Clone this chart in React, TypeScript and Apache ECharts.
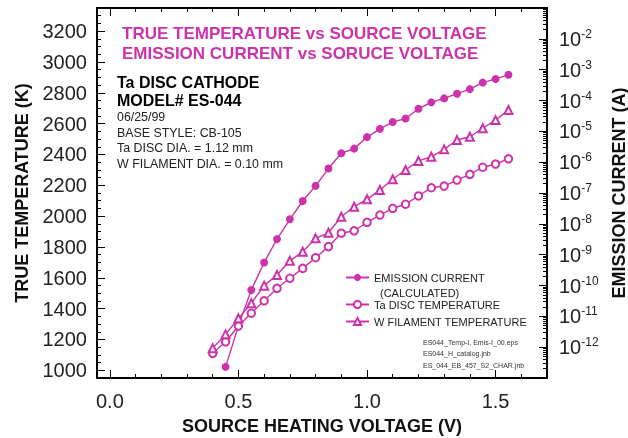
import React, { useEffect, useRef } from "react";
import * as echarts from "echarts";

// ---- data ----
const voltage = [0.40, 0.45, 0.50, 0.55, 0.60, 0.65, 0.70, 0.75, 0.80, 0.85, 0.90, 0.95, 1.00, 1.05, 1.10, 1.15, 1.20, 1.25, 1.30, 1.35, 1.40, 1.45, 1.50, 1.55];
const taDiscTemp = [1110, 1185, 1287, 1370, 1451, 1532, 1597, 1661, 1730, 1802, 1889, 1905, 1960, 2007, 2051, 2077, 2131, 2184, 2195, 2234, 2271, 2317, 2338, 2372];
const wFilamentTemp = [1143, 1233, 1337, 1435, 1549, 1618, 1710, 1769, 1856, 1892, 1996, 2061, 2109, 2169, 2239, 2299, 2358, 2385, 2433, 2494, 2515, 2570, 2623, 2688];
const emissionVoltage = [0.45, 0.50, 0.55, 0.60, 0.65, 0.70, 0.75, 0.80, 0.85, 0.90, 0.95, 1.00, 1.05, 1.10, 1.15, 1.20, 1.25, 1.30, 1.35, 1.40, 1.45, 1.50, 1.55];
const emissionCurrent = [2.3e-13, 4.9e-12, 7.1e-11, 5.6e-10, 3.2e-9, 1.4e-8, 5.5e-8, 1.7e-7, 6.2e-7, 1.95e-6, 2.75e-6, 6.5e-6, 1.2e-5, 2.0e-5, 2.6e-5, 5.4e-5, 8.7e-5, 1.17e-4, 1.66e-4, 2.34e-4, 3.8e-4, 5.0e-4, 6.8e-4];

const titleLines = ["TRUE TEMPERATURE vs SOURCE VOLTAGE", "EMISSION CURRENT vs SORUCE VOLTAGE"];
const infoBold = ["Ta DISC CATHODE", "MODEL# ES-044"];
const infoLines = ["06/25/99", "BASE STYLE: CB-105", "Ta DISC DIA. = 1.12 mm", "W FILAMENT DIA. = 0.10 mm"];
const fileNotes = ["ES044_Temp-I, Emis-I_00.eps", "ES044_H_catalog.jnb", "ES_044_EB_457_S2_CHAR.jnb"];

const MAGENTA = "#cc33aa";
const FONT = "'Liberation Sans', Arial, Helvetica, sans-serif";

export default function App() {
  const ref = useRef<HTMLDivElement>(null);

  useEffect(() => {
    if (!ref.current) return;
    const chart = echarts.init(ref.current, undefined, { renderer: "svg" });

    const axisLine = () => ({ show: true, onZero: false, lineStyle: { color: "#000", width: 2 } });
    const tick = () => ({ show: true, inside: true, length: 8, lineStyle: { color: "#000", width: 1 } });
    const minor = (n: number) => ({ show: true, splitNumber: n, length: 4, lineStyle: { color: "#000", width: 1 } });

    const graphic: any[] = [];
    infoBold.forEach((t, i) => {
      graphic.push({ type: "text", x: 117, y: 82 + i * 18, style: { text: t, font: `bold 16px ${FONT}`, fill: "#000", verticalAlign: "middle" } });
    });
    infoLines.forEach((t, i) => {
      graphic.push({ type: "text", x: 117, y: 117 + i * 15.5, style: { text: t, font: `12.4px ${FONT}`, fill: "#222", verticalAlign: "middle" } });
    });
    fileNotes.forEach((t, i) => {
      graphic.push({ type: "text", x: 423, y: 342 + i * 11.5, style: { text: t, font: `7px ${FONT}`, fill: "#333", verticalAlign: "middle" } });
    });
    graphic.push({ type: "text", x: 380, y: 293, style: { text: "(CALCULATED)", font: `11px ${FONT}`, fill: "#222", verticalAlign: "middle" } });

    chart.setOption({
      animation: false,
      textStyle: { fontFamily: FONT },
      title: {
        text: titleLines.join("\n"), left: 117, top: 18,
        textStyle: { color: MAGENTA, fontSize: 17, fontWeight: "bold", lineHeight: 20, fontFamily: FONT },
      },
      legend: [
        { data: ["EMISSION CURRENT"], left: 340, top: 267, orient: "vertical", itemWidth: 23, itemHeight: 9, textStyle: { fontSize: 11, color: "#222", fontFamily: FONT } },
        { data: ["Ta DISC TEMPERATURE", "W FILAMENT TEMPERATURE"], left: 340, top: 294, orient: "vertical", itemWidth: 23, itemHeight: 9, itemGap: 6, textStyle: { fontSize: 11, color: "#222", fontFamily: FONT } },
      ],
      graphic,
      grid: { left: 97, right: 81, top: 8, bottom: 60, containLabel: false, outerBoundsMode: "none" },
      xAxis: [
        {
          type: "value", position: "bottom", min: -0.05, max: 1.7, splitNumber: 4,
          name: "SOURCE HEATING VOLTAGE (V)", nameLocation: "middle", nameGap: 39,
          nameTextStyle: { fontSize: 18, fontWeight: "bold", color: "#111", fontFamily: FONT },
          axisLine: axisLine(), axisTick: tick(), minorTick: minor(5), splitLine: { show: false },
          axisLabel: { fontSize: 20, color: "#222", margin: 13, showMinLabel: false, showMaxLabel: false, formatter: (v: number) => v.toFixed(1) },
        },
        {
          type: "value", position: "top", min: -0.05, max: 1.7, splitNumber: 4,
          axisLine: axisLine(), axisTick: tick(), minorTick: minor(5), splitLine: { show: false }, axisLabel: { show: false },
        },
      ],
      yAxis: [
        {
          type: "value", position: "left", min: 950, max: 3350, splitNumber: 12,
          name: "TRUE TEMPERATURE (K)", nameLocation: "middle", nameGap: 66, nameRotate: 90,
          nameTextStyle: { fontSize: 18, fontWeight: "bold", color: "#111", fontFamily: FONT },
          axisLine: axisLine(), axisTick: tick(), minorTick: minor(4), splitLine: { show: false },
          axisLabel: { fontSize: 20, color: "#222", margin: 10, showMinLabel: false, showMaxLabel: false, formatter: (v: number) => String(v) },
        },
        {
          type: "log", logBase: 10, position: "right", min: 1e-13, max: 1e-1, interval: 1,
          name: "EMISSION CURRENT (A)", nameLocation: "middle", nameGap: 63, nameRotate: 90,
          nameTextStyle: { fontSize: 18, fontWeight: "bold", color: "#111", fontFamily: FONT },
          axisLine: axisLine(), axisTick: tick(), minorTick: minor(9), splitLine: { show: false },
          axisLabel: {
            margin: 12, showMinLabel: false, showMaxLabel: false,
            formatter: (v: number) => {
              const e = Math.round(Math.log10(v));
              if (e <= -13 || e >= -1) return "";
              return `{b|10}{s|${e}}`;
            },
            rich: {
              b: { fontSize: 20, color: "#222", fontFamily: FONT },
              s: { fontSize: 12, color: "#222", fontFamily: FONT, padding: [0, 0, 10, 0] },
            },
          },
        },
      ],
      series: [
        {
          name: "EMISSION CURRENT", type: "line", xAxisIndex: 0, yAxisIndex: 1,
          data: emissionVoltage.map((v, i) => [v, emissionCurrent[i]]),
          symbol: "circle", symbolSize: 8, lineStyle: { color: MAGENTA, width: 1.4 }, itemStyle: { color: MAGENTA },
        },
        {
          name: "Ta DISC TEMPERATURE", type: "line", xAxisIndex: 0, yAxisIndex: 0,
          data: voltage.map((v, i) => [v, taDiscTemp[i]]),
          symbol: "emptyCircle", symbolSize: 7.5, lineStyle: { color: MAGENTA, width: 1.4 }, itemStyle: { color: MAGENTA, borderWidth: 1.4 },
        },
        {
          name: "W FILAMENT TEMPERATURE", type: "line", xAxisIndex: 0, yAxisIndex: 0,
          data: voltage.map((v, i) => [v, wFilamentTemp[i]]),
          symbol: "emptyTriangle", symbolSize: 8, lineStyle: { color: MAGENTA, width: 1.4 }, itemStyle: { color: MAGENTA, borderWidth: 1.4 },
        },
      ],
    });

    return () => chart.dispose();
  }, []);

  return <div ref={ref} style={{ position: "fixed", left: 0, top: 0, width: 628, height: 438 }} />;
}
